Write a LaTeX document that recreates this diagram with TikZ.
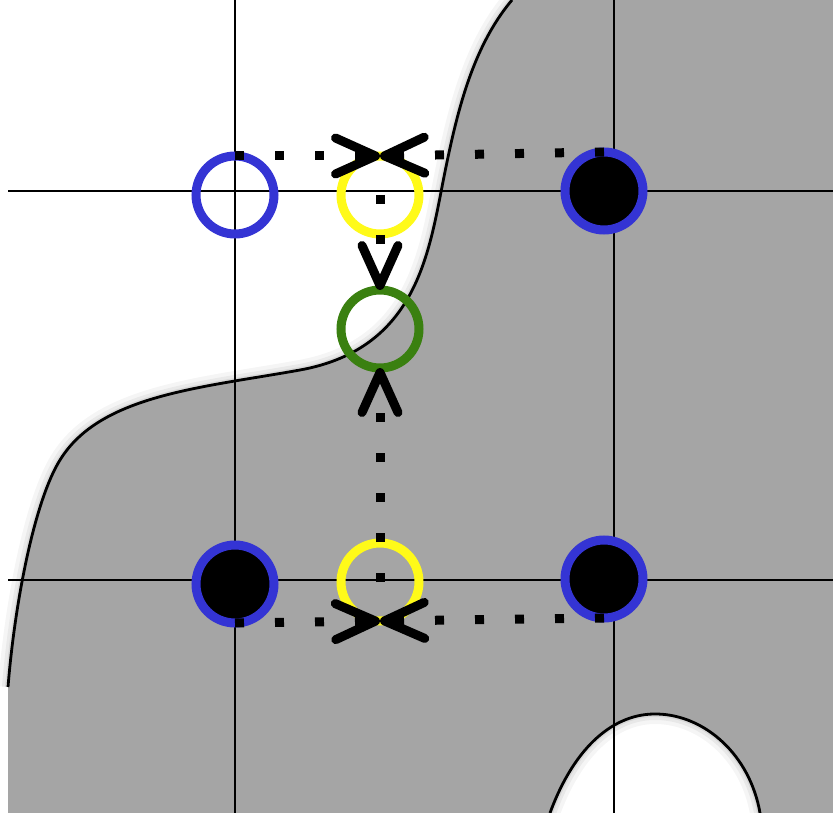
\documentclass[tikz,border=0pt]{standalone}
\usetikzlibrary{arrows.meta}
\definecolor{regiongray}{RGB}{165,165,165}
\definecolor{ringblue}{RGB}{52,52,212}
\definecolor{ringyellow}{RGB}{255,250,25}
\definecolor{ringgreen}{RGB}{58,128,16}
\begin{document}
\begin{tikzpicture}[x=1pt,y=-1pt,
  ring/.style={circle,minimum size=78pt,inner sep=0pt,outer sep=0pt,line width=9pt},
  openring/.style={ring,draw=#1},
  solidring/.style={ring,draw=ringblue,fill=black},
  dotline/.style={line width=9pt,line cap=butt,dash pattern=on 9pt off 31pt},
  barb/.style={dotline,-{Straight Barb[length=40pt,width=36pt,round]}},
  gridline/.style={line width=2.8pt},
  contour/.style={line width=2.8pt}
]
\useasboundingbox (0,0) rectangle (833,813);

% boundary of the shaded region
\def\shore{(512,0) .. controls (470,50) and (455,120) .. (441,192)
  .. controls (427,264) and (410,350) .. (300,370)
  .. controls (200,388) and (100,395) .. (60,460)
  .. controls (35,500) and (15,600) .. (8,687)}
\def\hole{(550,813) .. controls (575,745) and (615,713) .. (657,714)
  .. controls (705,715) and (750,755) .. (760,813)}

% soft shadow on the open side of the boundary
\foreach \w/\o in {20/0.04,12/0.05,6/0.07}
  \draw[black,opacity=\o,line width=\w pt] \shore;

\fill[regiongray] \shore -- (8,813) -- (833,813) -- (833,0) -- cycle;
\fill[white] \hole -- cycle;
\begin{scope}
  \clip \hole -- cycle;
  \foreach \w/\o in {20/0.04,12/0.05,6/0.07}
    \draw[black,opacity=\o,line width=\w pt] \hole;
\end{scope}
\draw[contour] \shore;
\draw[contour] \hole;

% grid
\draw[gridline] (235,0) -- (235,813);
\draw[gridline] (614,0) -- (614,813);
\draw[gridline] (8,191) -- (833,191);
\draw[gridline] (8,580) -- (833,580);

% vertices and edge points
\node[openring=ringblue] (tl) at (235,195) {};
\node[openring=ringyellow] (ty) at (380,195) {};
\node[solidring] (tr) at (604,191) {};
\node[openring=ringgreen] (gr) at (380,329) {};
\node[solidring] (bl) at (235,584) {};
\node[openring=ringyellow] (by) at (380,582) {};
\node[solidring] (br) at (604,579) {};

% connectors
\draw[barb] (tl.north) -- (ty.north);
\draw[barb] (tr.north) -- (ty.north);
\draw[barb] (ty.center) -- (gr.north);
\draw[barb] (by.center) -- (gr.south);
\draw[barb] (bl.south) -- (by.south);
\draw[barb] (br.south) -- (by.south);
\end{tikzpicture}
\end{document}
